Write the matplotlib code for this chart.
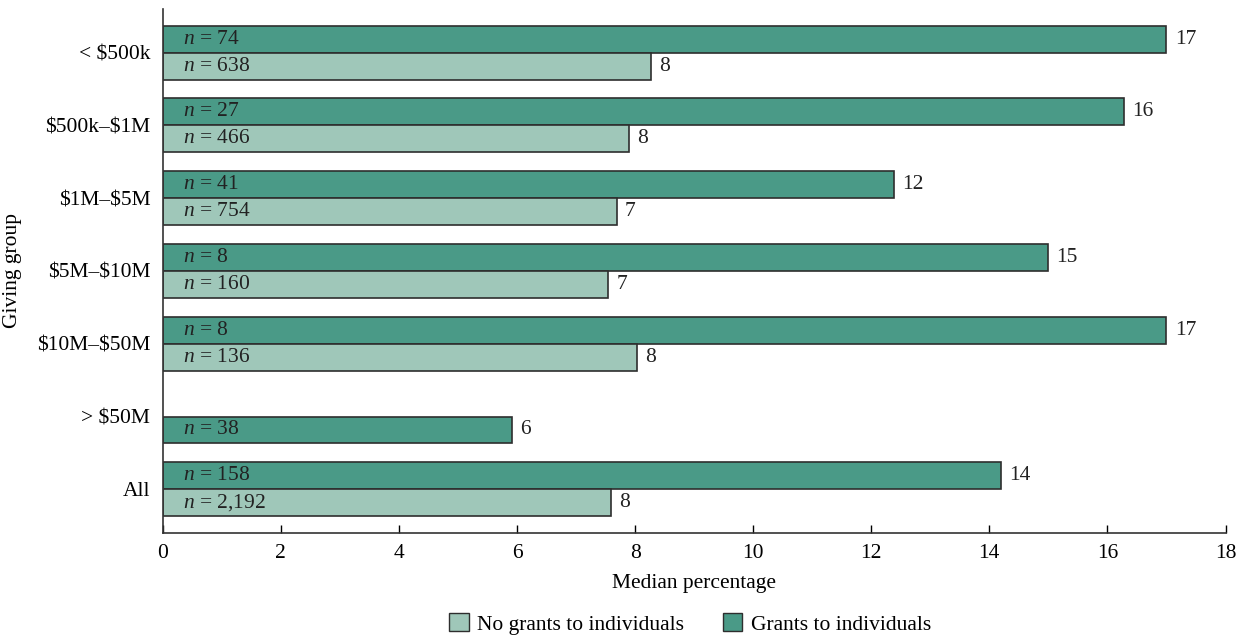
import matplotlib.pyplot as plt
import numpy as np
from matplotlib.patches import Patch

plt.rcParams["font.family"] = ["Liberation Serif", "DejaVu Serif"]
plt.rcParams["mathtext.fontset"] = "custom"
plt.rcParams["mathtext.rm"] = "Liberation Serif"
plt.rcParams["mathtext.it"] = "Liberation Serif:italic"

groups = [r"< \$500k", r"\$500k–\$1M", r"\$1M–\$5M", r"\$5M–\$10M", r"\$10M–\$50M", r"> \$50M", "All"]

# grants to individuals (dark), upper slot
grants = [17.0, 16.28, 12.38, 14.99, 17.0, np.nan, 14.19]
grants_lbl = ["17", "16", "12", "15", "17", "", "14"]
grants_n = ["74", "27", "41", "8", "8", "", "158"]

# no grants to individuals (light), lower slot
nogrants = [8.27, 7.90, 7.69, 7.54, 8.03, np.nan, 7.59]
nogrants_lbl = ["8", "8", "7", "7", "8", "", "8"]
nogrants_n = ["638", "466", "754", "160", "136", "", "2,192"]

# > $50M has a single bar (grants colour) sitting in the lower slot
big_val = 5.91
big_lbl = "6"
big_n = "38"

dark = "#4a9a87"
light = "#9fc7b9"
edge = "#2e2e2e"
fs = 15.5

fig = plt.figure(figsize=(12.48, 6.38), dpi=100)
ax = fig.add_axes([0.1304, 0.1646, 0.982 - 0.1304, 0.986 - 0.1646])

y = np.arange(len(groups))
h = 0.37

def draw(ys, vals, labels, ns, color):
    for yy, v, lb, n in zip(ys, vals, labels, ns):
        if np.isnan(v):
            continue
        ax.barh(yy, v, height=h, color=color, edgecolor=edge, linewidth=1.2)
        ax.text(v + 0.14, yy, lb, va="center", ha="left", fontsize=fs, color="#222222")
        ax.text(0.35, yy, r"$n$ = " + n, va="center", ha="left", fontsize=fs, color="#222222")

draw(y - h / 2, grants, grants_lbl, grants_n, dark)
draw(y + h / 2, nogrants, nogrants_lbl, nogrants_n, light)
draw([y[5] + h / 2], [big_val], [big_lbl], [big_n], dark)

ax.set_ylim(6.6, -0.6)
ax.set_xlim(0, 18)
ax.set_yticks(y)
ax.set_yticklabels(groups, fontsize=fs)
ax.set_xticks(range(0, 19, 2))
ax.tick_params(axis="x", direction="in", length=6, width=1, labelsize=fs, pad=8)
ax.tick_params(axis="y", length=0, pad=9)
for s in ["top", "right"]:
    ax.spines[s].set_visible(False)
for s in ["left", "bottom"]:
    ax.spines[s].set_linewidth(1.2)
    ax.spines[s].set_color("#333333")

ax.set_xlabel("Median percentage", fontsize=fs, labelpad=8)
ax.set_ylabel("Giving group", fontsize=fs, va="center")
ax.yaxis.set_label_coords(-0.141, 0.5)

handles = [Patch(facecolor=light, edgecolor=edge, label="No grants to individuals"),
           Patch(facecolor=dark, edgecolor=edge, label="Grants to individuals")]
fig.legend(handles=handles, loc="center", bbox_to_anchor=(0.553, 0.022), ncol=2,
           frameon=False, fontsize=fs, handlelength=0.9, handleheight=0.9,
           handletextpad=0.4, columnspacing=1.8)

fig.savefig("out.png", dpi=100)
